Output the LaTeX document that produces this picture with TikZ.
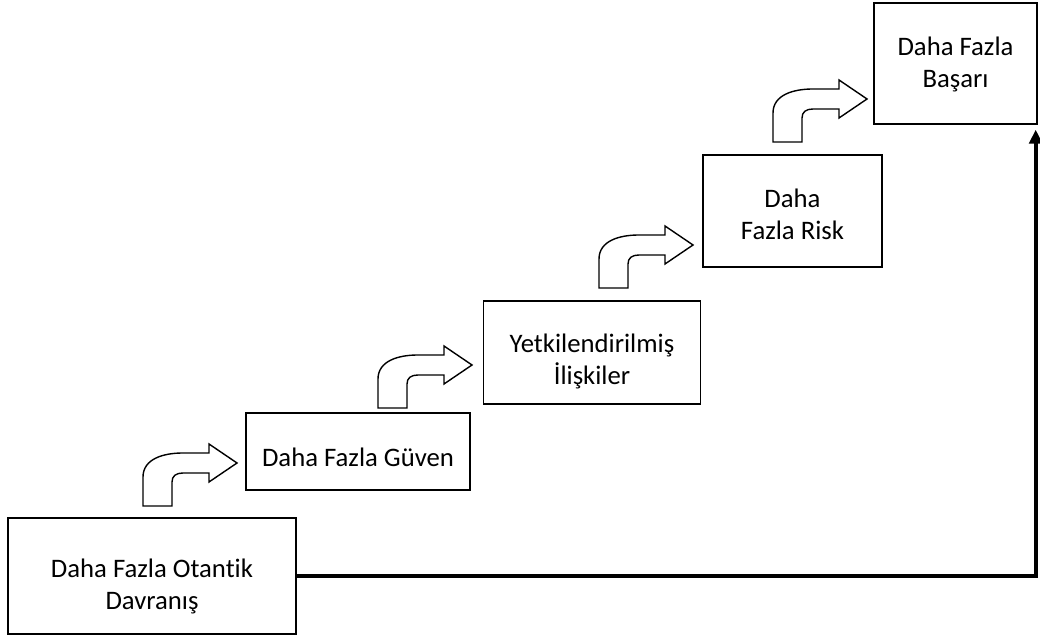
\documentclass[tikz,border=0pt]{standalone}
\usepackage{fontspec}
\setmainfont{Carlito}[Ligatures=NoCommon]
\usetikzlibrary{arrows.meta}

\tikzset{
  box/.style={draw, thick, align=center, inner sep=0pt, text depth=0pt, font=\fontsize{15.2}{18.7}\selectfont},
  bentarrow/.pic={
    \draw[thick, fill=white] (0,0) -- (0,29) .. controls (0,47) and (20,53) .. (40,53)
      -- (66,53) -- (66,62) -- (94,43) -- (66,24) -- (66,33) -- (40,33)
      .. controls (33,33) and (29,30) .. (29,24) -- (29,0) -- cycle;
  },
  conn/.style={line width=2.3pt, -{Triangle[length=0.28cm,width=0.26cm]}, shorten >=0.1cm}
}

\begin{document}
\begin{tikzpicture}[x=0.02cm, y=0.02cm]
\useasboundingbox (0,0) rectangle (1040,641);

\node[box, minimum width=288*0.02cm, minimum height=116*0.02cm, text height=1.36cm] (otantik) at (152,65) {Daha Fazla Otantik\\Davranış};
\node[box, minimum width=224*0.02cm, minimum height=77*0.02cm, text height=0.6cm] (guven) at (358,189.5) {Daha Fazla Güven};
\node[box, minimum width=217*0.02cm, minimum height=103*0.02cm, text height=1.3cm] (iliskiler) at (592,288.5) {Yetkilendirilmiş\\İlişkiler};
\node[box, minimum width=179*0.02cm, minimum height=112*0.02cm, text height=1.16cm] (risk) at (792.5,430) {Daha\\Fazla Risk};
\node[box, minimum width=163*0.02cm, minimum height=121*0.02cm, text height=0.98cm] (basari) at (955.5,577.5) {Daha Fazla\\Başarı};

\pic at (143,135) {bentarrow};
\pic at (378,233) {bentarrow};
\pic at (599,353) {bentarrow};
\pic at (773,499) {bentarrow};

\draw[conn] (otantik.east) -| ([xshift=-0.04cm]basari.south east);

\end{tikzpicture}
\end{document}
